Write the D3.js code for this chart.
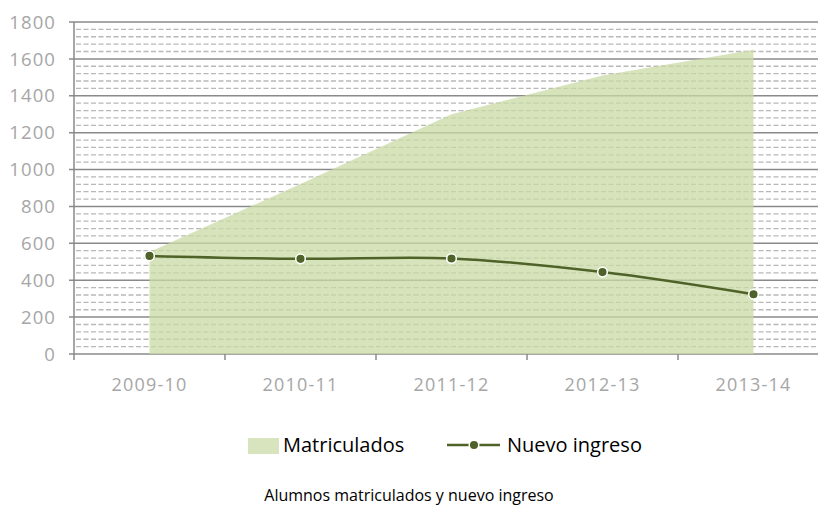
<!DOCTYPE html>
<html><head><meta charset="utf-8">
<script src="https://cdn.jsdelivr.net/npm/d3@7"></script>
<style>
html,body{margin:0;padding:0;background:#fff;}
svg{display:block;}
text{font-family:"Open Sans","Liberation Sans",sans-serif;}
</style></head>
<body>
<svg id="chart" width="818" height="508"></svg>
<script>
const categories = ["2009-10","2010-11","2011-12","2012-13","2013-14"];
const matriculados = [553, 922, 1300, 1510, 1650];
const nuevoIngreso = [532, 516, 518, 444, 324];
const yTicks = [0,200,400,600,800,1000,1200,1400,1600,1800];
const seriesNames = ["Matriculados","Nuevo ingreso"];
const chartTitle = "Alumnos matriculados y nuevo ingreso";

const svg = d3.select("#chart");
const x = d3.scaleBand().domain(categories).range([74, 829]);
const y = d3.scaleLinear().domain([0, 1800]).range([354, 22]);
const cx = c => x(c) + x.bandwidth()/2;

// minor gridlines
const minor = d3.range(0, 1800, 40).filter(v => v % 200 !== 0);
svg.append("g").selectAll("line").data(minor).join("line")
  .attr("x1", 76).attr("x2", 818)
  .attr("y1", d => y(d)).attr("y2", d => y(d))
  .attr("stroke", "#b8b8b8").attr("stroke-width", 1.3)
  .attr("stroke-dasharray", "5,2.5");

// major gridlines + tick marks
svg.append("g").selectAll("line").data(yTicks).join("line")
  .attr("x1", 69).attr("x2", 818)
  .attr("y1", d => y(d)).attr("y2", d => y(d))
  .attr("stroke", "#8a8a8a").attr("stroke-width", 1.5);

// area
const data = categories.map((c,i) => ({c, m: matriculados[i], n: nuevoIngreso[i]}));
svg.append("path").datum(data)
  .attr("d", d3.area().x(d => cx(d.c)).y0(y(0)).y1(d => y(d.m)))
  .attr("fill", "#c9d9a4").attr("fill-opacity", 0.75);

// y axis line
svg.append("line").attr("x1", 74).attr("x2", 74).attr("y1", y(1800)).attr("y2", y(0))
  .attr("stroke", "#8a8a8a").attr("stroke-width", 1.5);
// x axis ticks
svg.append("g").selectAll("line").data(categories.concat(["end"])).join("line")
  .attr("x1", (d,i) => 74 + i*x.step()).attr("x2", (d,i) => 74 + i*x.step())
  .attr("y1", y(0)).attr("y2", y(0)+6)
  .attr("stroke", "#8a8a8a").attr("stroke-width", 1.5);

// y tick labels
svg.append("g").selectAll("text").data(yTicks).join("text")
  .attr("x", 56).attr("y", d => y(d)).attr("dy", "0.36em")
  .attr("text-anchor", "end").attr("fill", "#a6a6a6")
  .attr("font-size", 18.5).attr("letter-spacing", 1.1)
  .text(d => d);

// x labels
svg.append("g").selectAll("text").data(categories).join("text")
  .attr("x", d => cx(d)).attr("y", 391)
  .attr("text-anchor", "middle").attr("fill", "#a6a6a6")
  .attr("font-size", 18).attr("letter-spacing", 1.2)
  .text(d => d);

// line
svg.append("path").datum(data)
  .attr("d", d3.line().x(d => cx(d.c)).y(d => y(d.n)).curve(d3.curveCatmullRom.alpha(0.5)))
  .attr("fill", "none").attr("stroke", "#4f6228").attr("stroke-width", 2.5);
svg.append("g").selectAll("circle").data(data).join("circle")
  .attr("cx", d => cx(d.c)).attr("cy", d => y(d.n)).attr("r", 4.8)
  .attr("fill", "#4f6228").attr("stroke", "#fff").attr("stroke-width", 1.5);

// legend
svg.append("rect").attr("x", 248).attr("y", 438).attr("width", 31).attr("height", 16)
  .attr("fill", "#d7e4bd");
svg.append("text").attr("x", 283).attr("y", 452).attr("font-size", 20).attr("fill", "#000")
  .attr("font-family", "Liberation Sans, sans-serif")
  .text(seriesNames[0]);
svg.append("line").attr("x1", 447).attr("x2", 500).attr("y1", 445).attr("y2", 445)
  .attr("stroke", "#4f6228").attr("stroke-width", 2.5);
svg.append("circle").attr("cx", 474).attr("cy", 445).attr("r", 4.8)
  .attr("fill", "#4f6228").attr("stroke", "#fff").attr("stroke-width", 1.5);
svg.append("text").attr("x", 507).attr("y", 452).attr("font-size", 20).attr("fill", "#000")
  .attr("font-family", "Liberation Sans, sans-serif")
  .text(seriesNames[1]);

// title
svg.append("text").attr("x", 409).attr("y", 501).attr("text-anchor", "middle")
  .attr("font-size", 16).attr("fill", "#000")
  .attr("font-family", "Liberation Sans, sans-serif")
  .text(chartTitle);
</script>
</body></html>
